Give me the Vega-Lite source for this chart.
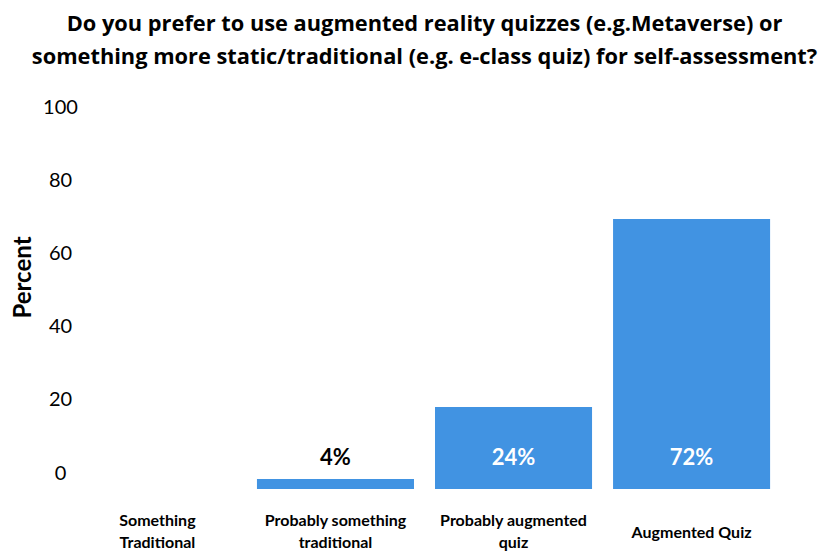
{
  "$schema": "https://vega.github.io/schema/vega-lite/v6.json",
  "width": 709,
  "height": 366,
  "autosize": "none",
  "padding": {"left": 70, "top": 123, "right": 47, "bottom": 62},
  "background": "white",
  "title": {
    "text": ["Do you prefer to use augmented reality quizzes (e.g.Metaverse) or", "something more static/traditional (e.g. e-class quiz) for self-assessment?"],
    "font": "Open Sans",
    "fontSize": 21.8,
    "fontWeight": "bold",
    "lineHeight": 33,
    "color": "black",
    "anchor": "middle",
    "offset": 28
  },
  "config": {"view": {"stroke": null}, "font": "Lato"},
  "data": {
    "values": [
      {"answer": "Something Traditional", "percent": 0, "label": ""},
      {"answer": "Probably something traditional", "percent": 2.7, "label": "4%"},
      {"answer": "Probably augmented quiz", "percent": 22.4, "label": "24%"},
      {"answer": "Augmented Quiz", "percent": 73.8, "label": "72%"}
    ]
  },
  "encoding": {
    "x": {
      "field": "answer",
      "type": "nominal",
      "sort": null,
      "scale": {"paddingInner": 0.118, "paddingOuter": 0.05},
      "axis": {
        "title": null,
        "labelAngle": 0,
        "labelFont": "Lato",
        "labelFontSize": 16,
        "labelFontWeight": "bold",
        "labelColor": "black",
        "labelBaseline": "middle",
        "labelPadding": {"condition": {"test": "datum.value == 'Augmented Quiz'", "value": 43}, "value": 31},
        "labelLineHeight": 22,
        "labelLimit": 0,
        "domain": false,
        "ticks": false,
        "tickSize": 0,
        "grid": false,
        "labelExpr": "datum.value == 'Something Traditional' ? ['Something', 'Traditional'] : datum.value == 'Probably something traditional' ? ['Probably something', 'traditional'] : datum.value == 'Probably augmented quiz' ? ['Probably augmented', 'quiz'] : datum.value"
      }
    }
  },
  "layer": [
    {
      "mark": {"type": "bar", "color": "#4193E2"},
      "encoding": {
        "y": {
          "field": "percent",
          "type": "quantitative",
          "scale": {"domain": [0, 100]},
          "axis": {
            "title": "Percent",
            "titleFont": "Lato",
            "titleFontSize": 24,
            "titleFontWeight": "bold",
            "titleColor": "black",
            "titleX": -47,
            "titleY": 154,
            "titleAngle": -90,
            "titleAlign": "center",
            "titleBaseline": "middle",
            "values": [0, 20, 40, 60, 80, 100],
            "labelOffset": -16,
            "labelAlign": "center",
            "labelPadding": 10,
            "labelFont": "Lato",
            "labelFontSize": 20,
            "labelColor": "black",
            "domain": false,
            "ticks": false,
            "tickSize": 0,
            "grid": false
          }
        }
      }
    },
    {
      "transform": [{"filter": "datum.label != ''"}],
      "mark": {"type": "text", "font": "Lato", "fontSize": 22, "fontWeight": "bold", "baseline": "middle"},
      "encoding": {
        "y": {"datum": 8.5},
        "text": {"field": "label"},
        "color": {"condition": {"test": "datum.percent > 10", "value": "white"}, "value": "black"}
      }
    }
  ]
}
